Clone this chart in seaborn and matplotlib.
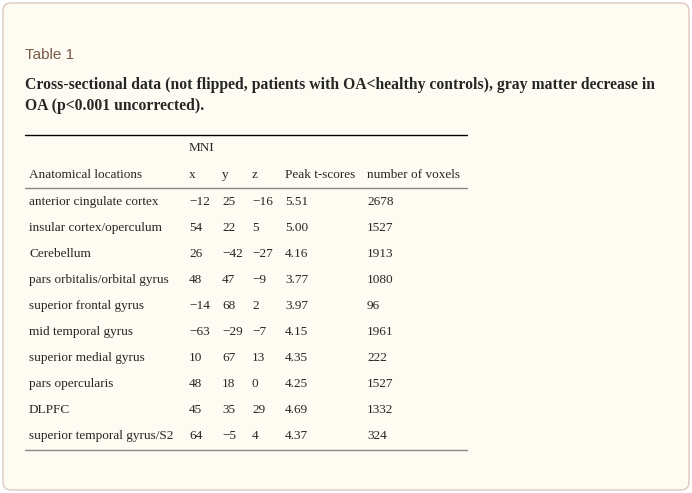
import matplotlib
matplotlib.use("Agg")
import matplotlib.pyplot as plt
import seaborn as sns
from matplotlib.patches import FancyBboxPatch

sns.set_style("white")

locations = ["anterior cingulate cortex", "insular cortex/operculum", "Cerebellum",
             "pars orbitalis/orbital gyrus", "superior frontal gyrus", "mid temporal gyrus",
             "superior medial gyrus", "pars opercularis", "DLPFC", "superior temporal gyrus/S2"]
mni_x = [-12, 54, 26, 48, -14, -63, 10, 48, 45, 64]
mni_y = [25, 22, -42, 47, 68, -29, 67, 18, 35, -5]
mni_z = [-16, 5, -27, -9, 2, -7, 13, 0, 29, 4]
peak_t = ["5.51", "5.00", "4.16", "3.77", "3.97", "4.15", "4.35", "4.25", "4.69", "4.37"]
voxels = [2678, 1527, 1913, 1080, 96, 1961, 222, 1527, 1332, 324]
headers = ["Anatomical locations", "x", "y", "z", "Peak t-scores", "number of voxels"]

def fmt(v):
    return str(v).replace("-", "\u2212")

fig = plt.figure(figsize=(6.92, 4.93), dpi=100)
fig.patch.set_facecolor("white")
ax = fig.add_axes([0, 0, 1, 1])
ax.set_xlim(0, 692); ax.set_ylim(493, 0); ax.axis("off")
ax.add_patch(FancyBboxPatch((3, 3), 686, 487, boxstyle="round,pad=0,rounding_size=8",
                            fc="#fefcf2", ec="#dcc8c0", lw=1))
serif = "Liberation Serif"
ax.text(25, 55, "Table 1", fontsize=11, color="#7a5a48", family="Liberation Sans", va="center")
ax.text(25, 85, "Cross-sectional data (not flipped, patients with OA<healthy controls), gray matter decrease in",
        fontsize=11.3, weight="bold", family=serif, va="center")
ax.text(25, 106, "OA (p<0.001 uncorrected).", fontsize=11.3, weight="bold", family=serif, va="center")
ax.plot([25, 467], [135, 135], color="black", lw=1)
ax.text(189, 148, "MNI", fontsize=9.5, family=serif, va="center")
cols = [29, 189, 222, 252, 285, 367]
for x, h in zip(cols, headers):
    ax.text(x, 175, h, fontsize=9.5, family=serif, va="center")
ax.plot([25, 467], [188, 188], color="#888888", lw=1)
for i in range(len(locations)):
    y = 202 + 26 * i
    vals = [locations[i], fmt(mni_x[i]), fmt(mni_y[i]), fmt(mni_z[i]), peak_t[i], str(voxels[i])]
    for x, v in zip(cols, vals):
        ax.text(x, y, v, fontsize=9.5, family=serif, va="center")
ax.plot([25, 467], [450, 450], color="#888888", lw=1)
fig.savefig("out.png", dpi=100, facecolor=fig.get_facecolor())
